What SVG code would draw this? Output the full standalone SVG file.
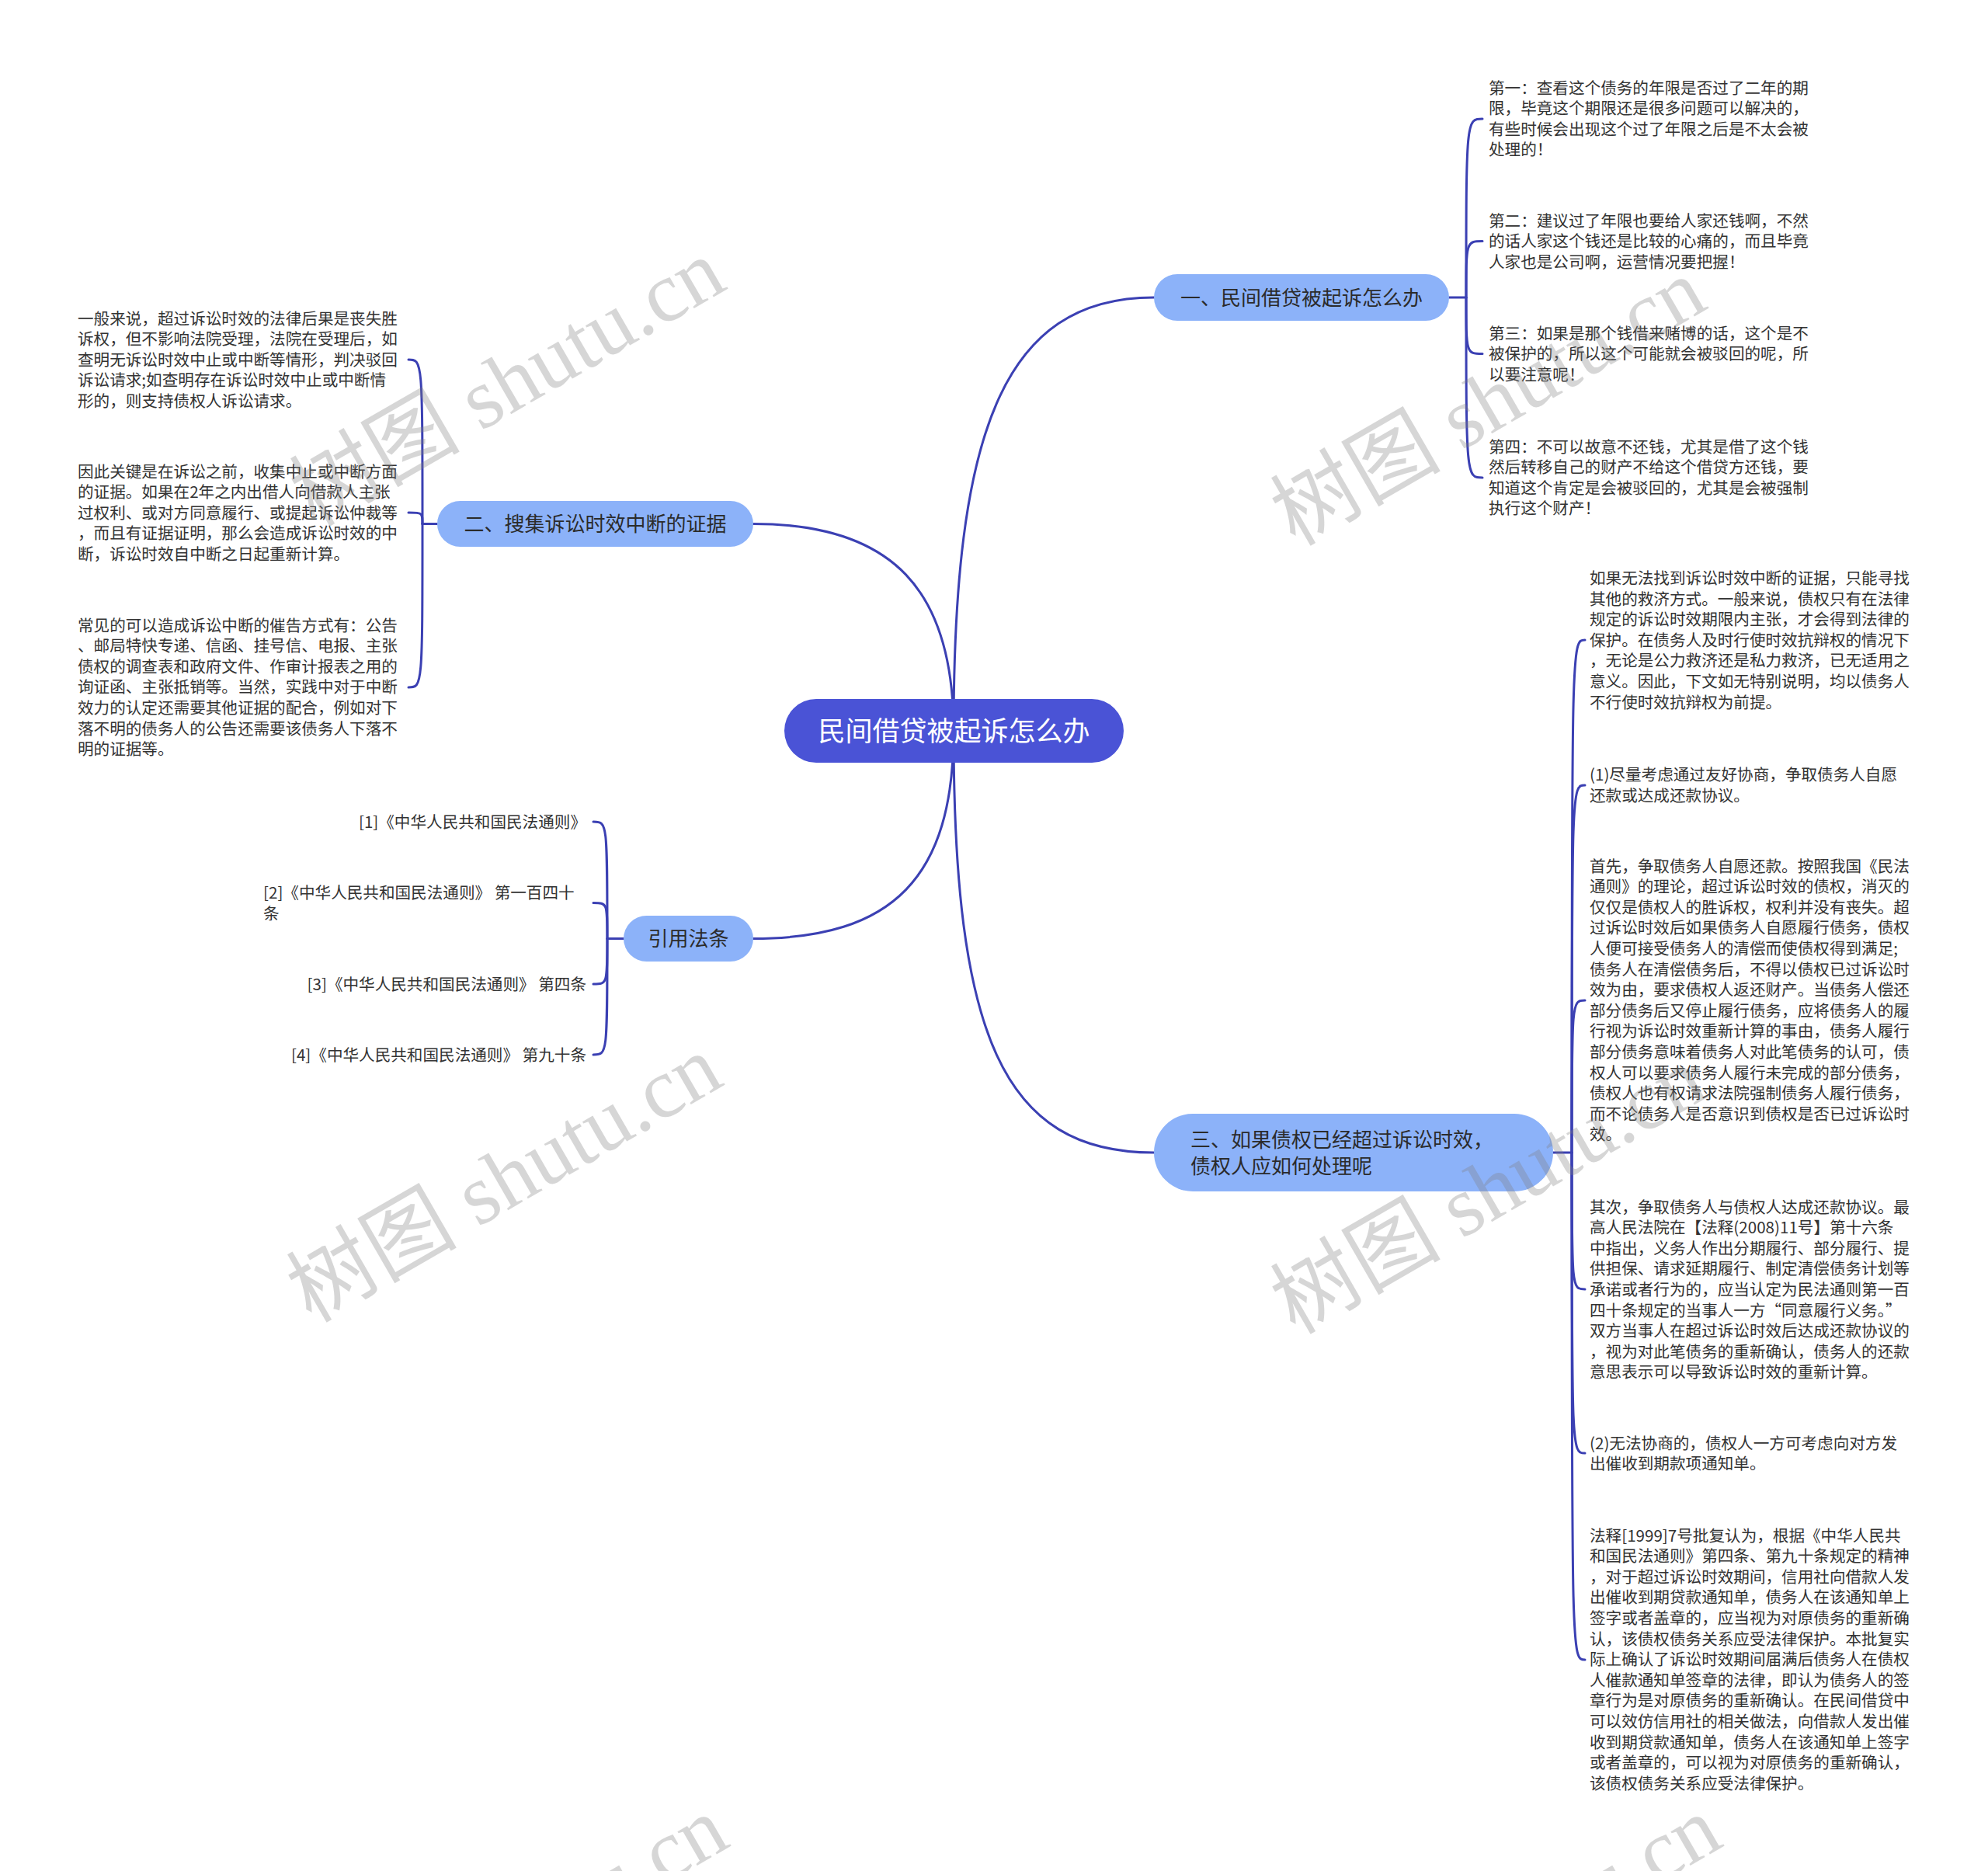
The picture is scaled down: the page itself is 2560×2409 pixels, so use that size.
<svg xmlns="http://www.w3.org/2000/svg" width="2560" height="2409" viewBox="0 0 2560 2409">
<style>
.conn{fill:none;stroke:#3b40b3;stroke-width:3;stroke-linecap:round}
.leaf{font-family:"Noto Sans CJK SC","Noto Sans",sans-serif;font-size:20.6px;fill:#333333}
.branch rect{fill:#8cb2f9}
.btxt{font-family:"Noto Sans CJK SC","Noto Sans",sans-serif;font-size:26px;fill:#2b2b2b}
.root rect{fill:#4a53d6}
.rtxt{font-family:"Noto Sans CJK SC","Noto Sans",sans-serif;font-size:35px;fill:#ffffff}
.wm{font-size:110px;fill:#808080;fill-opacity:0.32}
.wmc{font-family:"Noto Sans CJK SC",sans-serif}
.wms{font-family:"Liberation Serif",serif}
</style>
<rect width="2560" height="2409" fill="#ffffff"/>
<g id="connectors">
<path class="conn" d="M1228,941 C1228,560 1290,383 1486,383"/>
<path class="conn" d="M1228,941 C1228,760 1150,674.5 970,674.5"/>
<path class="conn" d="M1228,941 C1228,1130 1150,1208.5 970,1208.5"/>
<path class="conn" d="M1228,941 C1228,1330 1290,1484 1486,1484"/>
<path class="conn" d="M1866,383 H1888"/>
<path class="conn" d="M1888,383 C1888,153 1888,153 1909,153"/>
<path class="conn" d="M1888,383 C1888,310.6 1888,310.6 1909,310.6"/>
<path class="conn" d="M1888,383 C1888,455.6 1888,455.6 1909,455.6"/>
<path class="conn" d="M1888,383 C1888,615 1888,615 1909,615"/>
<path class="conn" d="M563,674.5 H544"/>
<path class="conn" d="M544,674.5 C544,463 544,463 526,463"/>
<path class="conn" d="M544,674.5 C544,660 544,660 526,660"/>
<path class="conn" d="M544,674.5 C544,885 544,885 526,885"/>
<path class="conn" d="M803,1208.5 H782"/>
<path class="conn" d="M782,1208.5 C782,1058 782,1058 764,1058"/>
<path class="conn" d="M782,1208.5 C782,1162.5 782,1162.5 764,1162.5"/>
<path class="conn" d="M782,1208.5 C782,1267 782,1267 764,1267"/>
<path class="conn" d="M782,1208.5 C782,1358 782,1358 764,1358"/>
<path class="conn" d="M2000,1484 H2024"/>
<path class="conn" d="M2024,1484 C2024,824 2024,824 2041,824"/>
<path class="conn" d="M2024,1484 C2024,1011 2024,1011 2041,1011"/>
<path class="conn" d="M2024,1484 C2024,1288 2024,1288 2041,1288"/>
<path class="conn" d="M2024,1484 C2024,1660 2024,1660 2041,1660"/>
<path class="conn" d="M2024,1484 C2024,1871 2024,1871 2041,1871"/>
<path class="conn" d="M2024,1484 C2024,2137 2024,2137 2041,2137"/>
</g>
<g id="root" class="root">
<rect x="1010" y="900" width="437" height="82" rx="41"/>
<text class="rtxt" x="1228.5" y="954" text-anchor="middle">民间借贷被起诉怎么办</text>
</g>
<g id="branch1" class="branch">
<rect x="1486" y="353" width="380" height="60" rx="30"/>
<text class="btxt" x="1676" y="392.5" text-anchor="middle">一、民间借贷被起诉怎么办</text>
</g>
<g id="branch2" class="branch">
<rect x="563" y="645" width="407" height="59" rx="29.5"/>
<text class="btxt" x="766.5" y="684" text-anchor="middle">二、搜集诉讼时效中断的证据</text>
</g>
<g id="branch4" class="branch">
<rect x="803" y="1179" width="167" height="59" rx="29.5"/>
<text class="btxt" x="886.5" y="1218" text-anchor="middle">引用法条</text>
</g>
<g id="branch3" class="branch">
<rect x="1486" y="1434" width="514" height="100" rx="50"/>
<text class="btxt"><tspan x="1533" y="1477">三、如果债权已经超过诉讼时效，</tspan><tspan x="1533" y="1511">债权人应如何处理呢</tspan></text>
</g>
<g id="leaf1-1"><text class="leaf"><tspan x="1917" y="120.5">第一：查看这个债务的年限是否过了二年的期</tspan><tspan x="1917" y="147.1">限，毕竟这个期限还是很多问题可以解决的，</tspan><tspan x="1917" y="173.7">有些时候会出现这个过了年限之后是不太会被</tspan><tspan x="1917" y="200.3">处理的！</tspan></text></g>
<g id="leaf1-2"><text class="leaf"><tspan x="1917" y="291.5">第二：建议过了年限也要给人家还钱啊，不然</tspan><tspan x="1917" y="318.1">的话人家这个钱还是比较的心痛的，而且毕竟</tspan><tspan x="1917" y="344.7">人家也是公司啊，运营情况要把握！</tspan></text></g>
<g id="leaf1-3"><text class="leaf"><tspan x="1917" y="436.5">第三：如果是那个钱借来赌博的话，这个是不</tspan><tspan x="1917" y="463.1">被保护的，所以这个可能就会被驳回的呢，所</tspan><tspan x="1917" y="489.7">以要注意呢！</tspan></text></g>
<g id="leaf1-4"><text class="leaf"><tspan x="1917" y="582.5">第四：不可以故意不还钱，尤其是借了这个钱</tspan><tspan x="1917" y="609.1">然后转移自己的财产不给这个借贷方还钱，要</tspan><tspan x="1917" y="635.7">知道这个肯定是会被驳回的，尤其是会被强制</tspan><tspan x="1917" y="662.3">执行这个财产！</tspan></text></g>
<g id="leaf2-1"><text class="leaf"><tspan x="100" y="417.5">一般来说，超过诉讼时效的法律后果是丧失胜</tspan><tspan x="100" y="444.1">诉权，但不影响法院受理，法院在受理后，如</tspan><tspan x="100" y="470.7">查明无诉讼时效中止或中断等情形，判决驳回</tspan><tspan x="100" y="497.3">诉讼请求;如查明存在诉讼时效中止或中断情</tspan><tspan x="100" y="523.9">形的，则支持债权人诉讼请求。</tspan></text></g>
<g id="leaf2-2"><text class="leaf"><tspan x="100" y="614.5">因此关键是在诉讼之前，收集中止或中断方面</tspan><tspan x="100" y="641.1">的证据。如果在2年之内出借人向借款人主张</tspan><tspan x="100" y="667.7">过权利、或对方同意履行、或提起诉讼仲裁等</tspan><tspan x="100" y="694.3">，而且有证据证明，那么会造成诉讼时效的中</tspan><tspan x="100" y="720.9">断，诉讼时效自中断之日起重新计算。</tspan></text></g>
<g id="leaf2-3"><text class="leaf"><tspan x="100" y="812.5">常见的可以造成诉讼中断的催告方式有：公告</tspan><tspan x="100" y="839.1">、邮局特快专递、信函、挂号信、电报、主张</tspan><tspan x="100" y="865.7">债权的调查表和政府文件、作审计报表之用的</tspan><tspan x="100" y="892.3">询证函、主张抵销等。当然，实践中对于中断</tspan><tspan x="100" y="918.9">效力的认定还需要其他证据的配合，例如对下</tspan><tspan x="100" y="945.5">落不明的债务人的公告还需要该债务人下落不</tspan><tspan x="100" y="972.1">明的证据等。</tspan></text></g>
<g id="leaf4-1"><text class="leaf" x="755" y="1065.5" text-anchor="end">[1]《中华人民共和国民法通则》</text></g>
<g id="leaf4-2"><text class="leaf"><tspan x="339" y="1157">[2]《中华人民共和国民法通则》 第一百四十</tspan><tspan x="339" y="1183.6">条</tspan></text></g>
<g id="leaf4-3"><text class="leaf" x="755" y="1274.5" text-anchor="end">[3]《中华人民共和国民法通则》 第四条</text></g>
<g id="leaf4-4"><text class="leaf" x="755" y="1365.5" text-anchor="end">[4]《中华人民共和国民法通则》 第九十条</text></g>
<g id="leaf3-1"><text class="leaf"><tspan x="2047" y="752">如果无法找到诉讼时效中断的证据，只能寻找</tspan><tspan x="2047" y="778.6">其他的救济方式。一般来说，债权只有在法律</tspan><tspan x="2047" y="805.2">规定的诉讼时效期限内主张，才会得到法律的</tspan><tspan x="2047" y="831.8">保护。在债务人及时行使时效抗辩权的情况下</tspan><tspan x="2047" y="858.4">，无论是公力救济还是私力救济，已无适用之</tspan><tspan x="2047" y="885">意义。因此，下文如无特别说明，均以债务人</tspan><tspan x="2047" y="911.6">不行使时效抗辩权为前提。</tspan></text></g>
<g id="leaf3-2"><text class="leaf"><tspan x="2047" y="1005">(1)尽量考虑通过友好协商，争取债务人自愿</tspan><tspan x="2047" y="1031.6">还款或达成还款协议。</tspan></text></g>
<g id="leaf3-3"><text class="leaf"><tspan x="2047" y="1122.5">首先，争取债务人自愿还款。按照我国《民法</tspan><tspan x="2047" y="1149.1">通则》的理论，超过诉讼时效的债权，消灭的</tspan><tspan x="2047" y="1175.7">仅仅是债权人的胜诉权，权利并没有丧失。超</tspan><tspan x="2047" y="1202.3">过诉讼时效后如果债务人自愿履行债务，债权</tspan><tspan x="2047" y="1228.9">人便可接受债务人的清偿而使债权得到满足;</tspan><tspan x="2047" y="1255.5">债务人在清偿债务后，不得以债权已过诉讼时</tspan><tspan x="2047" y="1282.1">效为由，要求债权人返还财产。当债务人偿还</tspan><tspan x="2047" y="1308.7">部分债务后又停止履行债务，应将债务人的履</tspan><tspan x="2047" y="1335.3">行视为诉讼时效重新计算的事由，债务人履行</tspan><tspan x="2047" y="1361.9">部分债务意味着债务人对此笔债务的认可，债</tspan><tspan x="2047" y="1388.5">权人可以要求债务人履行未完成的部分债务，</tspan><tspan x="2047" y="1415.1">债权人也有权请求法院强制债务人履行债务，</tspan><tspan x="2047" y="1441.7">而不论债务人是否意识到债权是否已过诉讼时</tspan><tspan x="2047" y="1468.3">效。</tspan></text></g>
<g id="leaf3-4"><text class="leaf"><tspan x="2047" y="1561.5">其次，争取债务人与债权人达成还款协议。最</tspan><tspan x="2047" y="1588.1">高人民法院在【法释(2008)11号】第十六条</tspan><tspan x="2047" y="1614.7">中指出，义务人作出分期履行、部分履行、提</tspan><tspan x="2047" y="1641.3">供担保、请求延期履行、制定清偿债务计划等</tspan><tspan x="2047" y="1667.9">承诺或者行为的，应当认定为民法通则第一百</tspan><tspan x="2047" y="1694.5">四十条规定的当事人一方“同意履行义务。”</tspan><tspan x="2047" y="1721.1">双方当事人在超过诉讼时效后达成还款协议的</tspan><tspan x="2047" y="1747.7">，视为对此笔债务的重新确认，债务人的还款</tspan><tspan x="2047" y="1774.3">意思表示可以导致诉讼时效的重新计算。</tspan></text></g>
<g id="leaf3-5"><text class="leaf"><tspan x="2047" y="1865.5">(2)无法协商的，债权人一方可考虑向对方发</tspan><tspan x="2047" y="1892.1">出催收到期款项通知单。</tspan></text></g>
<g id="leaf3-6"><text class="leaf"><tspan x="2047" y="1984.5">法释[1999]7号批复认为，根据《中华人民共</tspan><tspan x="2047" y="2011.1">和国民法通则》第四条、第九十条规定的精神</tspan><tspan x="2047" y="2037.7">，对于超过诉讼时效期间，信用社向借款人发</tspan><tspan x="2047" y="2064.3">出催收到期贷款通知单，债务人在该通知单上</tspan><tspan x="2047" y="2090.9">签字或者盖章的，应当视为对原债务的重新确</tspan><tspan x="2047" y="2117.5">认，该债权债务关系应受法律保护。本批复实</tspan><tspan x="2047" y="2144.1">际上确认了诉讼时效期间届满后债务人在债权</tspan><tspan x="2047" y="2170.7">人催款通知单签章的法律，即认为债务人的签</tspan><tspan x="2047" y="2197.3">章行为是对原债务的重新确认。在民间借贷中</tspan><tspan x="2047" y="2223.9">可以效仿信用社的相关做法，向借款人发出催</tspan><tspan x="2047" y="2250.5">收到期贷款通知单，债务人在该通知单上签字</tspan><tspan x="2047" y="2277.1">或者盖章的，可以视为对原债务的重新确认，</tspan><tspan x="2047" y="2303.7">该债权债务关系应受法律保护。</tspan></text></g>
<g id="watermarks">
<text class="wm" text-anchor="middle" transform="translate(672,525) rotate(-30)"><tspan class="wmc">树图</tspan><tspan class="wms"> shutu.cn</tspan></text>
<text class="wm" text-anchor="middle" transform="translate(1935,550) rotate(-30)"><tspan class="wmc">树图</tspan><tspan class="wms"> shutu.cn</tspan></text>
<text class="wm" text-anchor="middle" transform="translate(668,1550) rotate(-30)"><tspan class="wmc">树图</tspan><tspan class="wms"> shutu.cn</tspan></text>
<text class="wm" text-anchor="middle" transform="translate(1935,1565) rotate(-30)"><tspan class="wmc">树图</tspan><tspan class="wms"> shutu.cn</tspan></text>
<text class="wm" text-anchor="middle" transform="translate(676,2530) rotate(-30)"><tspan class="wmc">树图</tspan><tspan class="wms"> shutu.cn</tspan></text>
<text class="wm" text-anchor="middle" transform="translate(1955,2530) rotate(-30)"><tspan class="wmc">树图</tspan><tspan class="wms"> shutu.cn</tspan></text>
</g>
</svg>
